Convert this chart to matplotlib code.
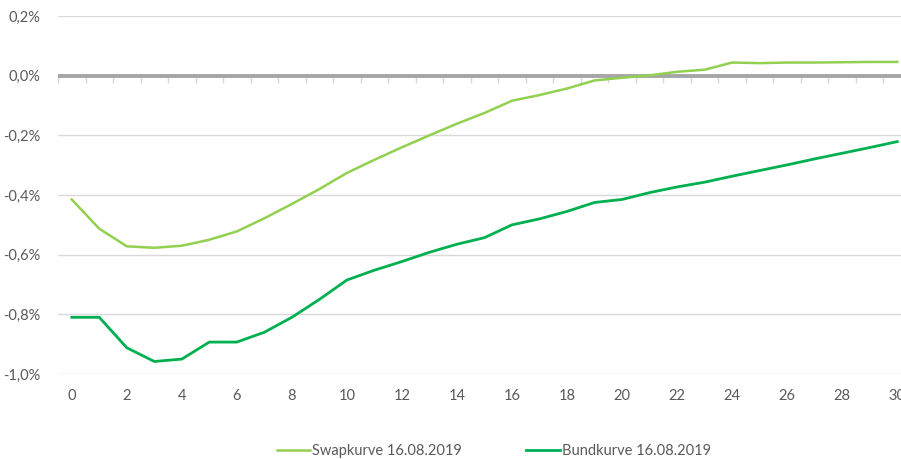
import matplotlib
matplotlib.use('Agg')
import matplotlib.pyplot as plt

# Laufzeit in Jahren
laufzeit = list(range(31))

# Renditen in %
swapkurve = [-0.415, -0.513, -0.572, -0.577, -0.570, -0.550, -0.522, -0.478, -0.430, -0.380,
             -0.326, -0.282, -0.240, -0.200, -0.161, -0.125, -0.084, -0.065, -0.043, -0.016,
             -0.007, 0.001, 0.013, 0.020, 0.044, 0.042, 0.044, 0.044, 0.045, 0.046, 0.046]
bundkurve = [-0.810, -0.810, -0.912, -0.958, -0.950, -0.893, -0.893, -0.860, -0.810, -0.750,
             -0.685, -0.652, -0.623, -0.592, -0.565, -0.543, -0.500, -0.480, -0.455, -0.425,
             -0.415, -0.392, -0.373, -0.357, -0.337, -0.318, -0.299, -0.279, -0.260, -0.241,
             -0.221]

y_ticks = [0.2, 0.0, -0.2, -0.4, -0.6, -0.8, -1.0]
y_labels = ['0,2%', '0,0%', '-0,2%', '-0,4%', '-0,6%', '-0,8%', '-1,0%']
x_ticks = list(range(0, 31, 2))

serien = ['Swapkurve 16.08.2019', 'Bundkurve 16.08.2019']
farben = ['#92D050', '#00B050']

plt.rcParams['font.family'] = ['Lato', 'DejaVu Sans']
txt = '#595959'
grid = '#D9D9D9'

fig = plt.figure(figsize=(9.01, 4.59), dpi=100)
ax = fig.add_axes([58 / 901, 85 / 459, 853 / 901, 358 / 459])

for yv in y_ticks:
    if yv != 0:
        ax.axhline(yv, color=grid, lw=1, zorder=0)

# Nulllinie (Excel-Kategorieachse kreuzt bei 0)
ax.axhline(0, color='#A6A6A6', lw=2.8, zorder=2)

ax.plot(laufzeit, swapkurve, color=farben[0], lw=1.8, label=serien[0], zorder=3)
ax.plot(laufzeit, bundkurve, color=farben[1], lw=2.0, label=serien[1], zorder=3)

ax.set_xlim(-0.5, 30.5)
ax.set_ylim(-1.0, 0.2)
ax.set_yticks(y_ticks)
ax.set_yticklabels(y_labels)
ax.set_xticks(x_ticks)
ax.set_xticklabels([str(v) for v in x_ticks])
ax.tick_params(axis='both', length=0, colors=txt, labelsize=10.5)
ax.tick_params(axis='x', pad=11)
ax.tick_params(axis='y', pad=13)
for s in ax.spines.values():
    s.set_visible(False)

# Teilstriche an der Nulllinie
sec = ax.secondary_xaxis(1.0 / 1.2)
sec.set_xticks([v + 0.5 for v in laufzeit[:-1]] + [-0.5])
sec.tick_params(axis='x', direction='out', length=5, color=grid, width=1,
                top=False, bottom=True, labeltop=False, labelbottom=False)
for s in sec.spines.values():
    s.set_visible(False)

fig.legend(loc='center', bbox_to_anchor=(0.548, 0.017), ncol=2, frameon=False,
           handlelength=2.3, handletextpad=0.15, columnspacing=4.4,
           fontsize=10.5, labelcolor=txt)

fig.savefig('out.png', dpi=100)
